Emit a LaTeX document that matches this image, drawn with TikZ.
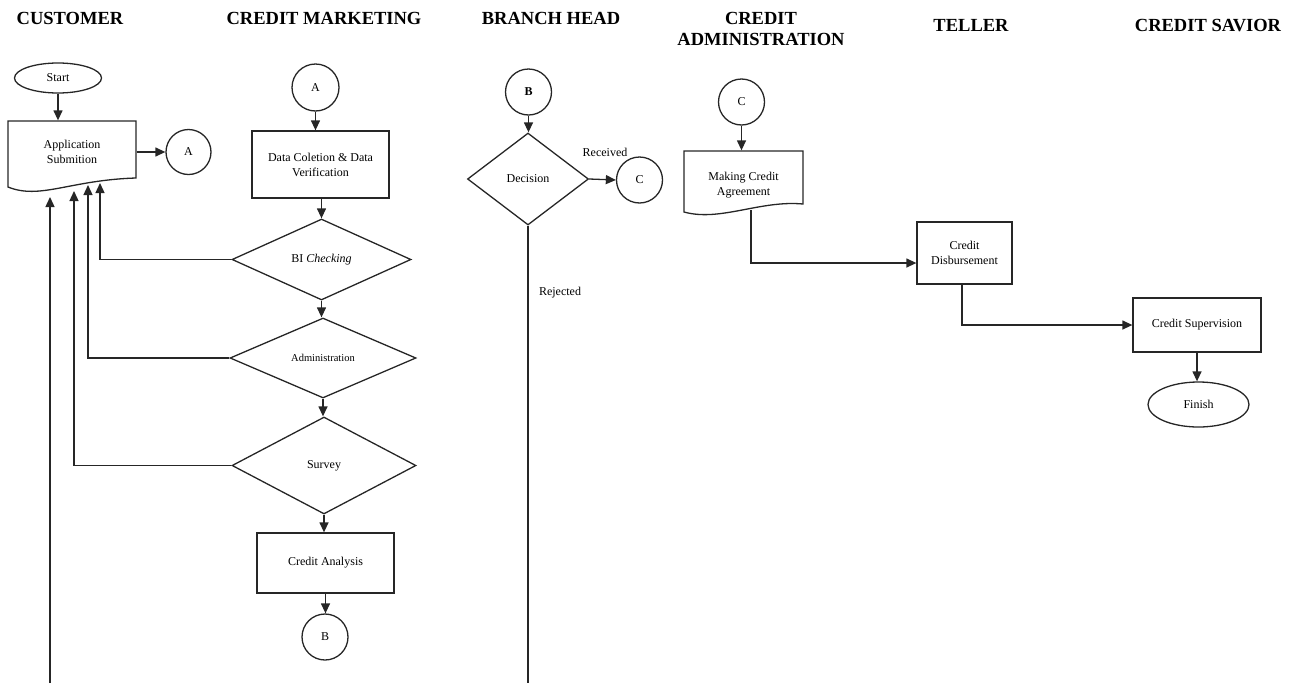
\documentclass[tikz,border=0pt]{standalone}
\usepackage{fontspec}
\setmainfont{Liberation Serif}
\usetikzlibrary{shapes.geometric,arrows.meta}
\begin{document}
\begin{tikzpicture}[x=1pt,y=-1pt,
  line width=1.3pt, draw=black!85,
  arr/.style={-{Triangle[length=10pt,width=9pt]}},
  hdr/.style={font=\fontsize{18.5}{21}\selectfont\bfseries, align=center, inner sep=0pt},
  txt/.style={font=\fontsize{12}{15}\selectfont, align=center},
  proc/.style={draw, rectangle, txt, inner sep=0pt},
  conn/.style={draw, circle, txt, minimum size=46pt, inner sep=0pt},
  term/.style={draw, ellipse, txt, inner sep=0pt},
  dec/.style={draw, diamond, txt, inner sep=0pt},
  doc/.style={rectangle, txt, inner sep=0pt},
  lbl/.style={txt, inner sep=0pt}]
\useasboundingbox (0,0) rectangle (1295,683);

% headers
\node[hdr] (h1) at (70,18) {CUSTOMER};
\node[hdr] (h2) at (324,18) {CREDIT MARKETING};
\node[hdr] (h3) at (551,18.5) {BRANCH HEAD};
\node[hdr] (h4) at (761,28.5) {CREDIT\\ADMINISTRATION};
\node[hdr] (h5) at (971,25.5) {TELLER};
\node[hdr] (h6) at (1208,25.5) {CREDIT SAVIOR};

% customer
\node[term, minimum width=87pt, minimum height=30pt] (start) at (58,78) {Start};
\node[doc, minimum width=128pt, minimum height=62pt] (app) at (72,152) {Application\\Submition};
\draw (8,121) -- (136,121) -- (136,178) .. controls (70,180) and (40,200) .. (8,187) -- cycle;
\node[conn, minimum size=45pt] (A1) at (188.5,152) {A};
\draw[arr] (start.south) -- (start.south |- app.north);
\draw[arr] (app.east) -- (A1.west);
\coordinate (t1) at (100,183);
\coordinate (t2) at (88,185);
\coordinate (t3) at (74,191);
\coordinate (t4) at (50,197);
\coordinate (b4) at (50,683);

% credit marketing
\node[conn, minimum size=47pt] (A2) at (315.5,87.5) {A};
\node[proc, minimum width=137pt, minimum height=67pt] (dc) at (320.5,164.5) {Data Coletion \& Data\\Verification};
\node[dec, minimum width=179pt, minimum height=81pt] (bi) at (321.5,259.5) {BI \textit{Checking}};
\node[dec, minimum width=186pt, minimum height=80pt, font=\fontsize{10.5}{12}\selectfont] (adm) at (323,358) {Administration};
\node[dec, minimum width=184pt, minimum height=97pt] (sur) at (324,465.5) {Survey};
\node[proc, minimum width=137pt, minimum height=60pt] (ca) at (325.5,563) {Credit Analysis};
\node[conn] (B1) at (325,637) {B};
\draw[arr] (A2.south) -- (A2.south |- dc.north);
\draw[arr] (bi.north |- dc.south) -- (bi.north);
\draw[arr] (bi.south) -- (bi.south |- adm.north);
\draw[arr] (adm.south) -- (adm.south |- sur.north);
\draw[arr] (sur.south) -- (sur.south |- ca.north);
\draw[arr] (ca.south) -- (ca.south |- B1.north);
\draw[arr] (bi.west) -| (t1);
\draw[arr] (adm.west) -| (t2);
\draw[arr] (sur.west) -| (t3);
\draw[arr] (b4) -- (t4);

% branch head
\node[conn, font=\fontsize{12}{15}\selectfont\bfseries] (B2) at (528.5,92) {B};
\node[dec, minimum width=121pt, minimum height=92pt] (deci) at (528,179) {Decision};
\node[conn] (C1) at (639.5,180) {C};
\node[lbl] (recv) at (605,152) {Received};
\node[lbl] (rej) at (560,293) {Rejected};
\coordinate (b5) at (528,683);
\draw[arr] (B2.south) -- (B2.south |- deci.north);
\draw[arr] (deci.east) -- (C1.west);
\draw (deci.south) -- (b5);

% credit administration
\node[conn] (C2) at (741.5,102) {C};
\node[doc, minimum width=119pt, minimum height=68pt] (mca) at (743.5,185) {Making Credit\\Agreement};
\draw (684,151) -- (803,151) -- (803,204) .. controls (760,200) and (720,222) .. (684,212) -- cycle;
\coordinate (mcaB) at (751,209.5);
\draw[arr] (C2.south) -- (C2.south |- mca.north);

% teller
\node[proc, minimum width=95pt, minimum height=62pt] (cd) at (964.5,253) {Credit\\Disbursement};
\draw[arr] (mcaB) |- ([yshift=-10pt]cd.west);

% credit savior
\node[proc, minimum width=128pt, minimum height=54pt] (cs) at (1197,325) {Credit Supervision};
\node[term, minimum width=101pt, minimum height=45pt] (fin) at (1198.5,404.5) {Finish};
\draw[arr] ([xshift=-2.5pt]cd.south) |- (cs.west);
\draw[arr] (cs.south) -- (cs.south |- fin.north);
\end{tikzpicture}
\end{document}
